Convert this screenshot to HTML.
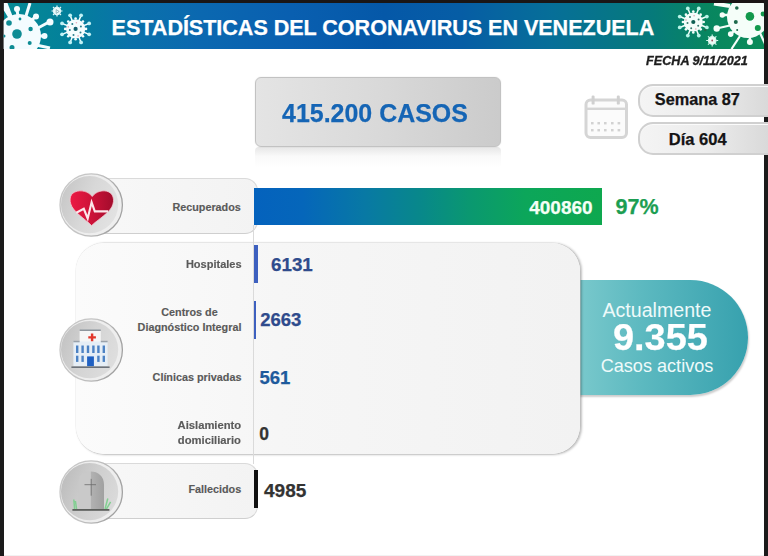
<!DOCTYPE html>
<html><head><meta charset="utf-8">
<style>
*{margin:0;padding:0;box-sizing:border-box}
html,body{width:768px;height:556px;overflow:hidden;background:#fff}
body{position:relative;font-family:"Liberation Sans",sans-serif}
.a{position:absolute}
.t{position:absolute;white-space:nowrap;line-height:1}
.b{font-weight:bold;-webkit-text-stroke:0.25px currentColor}
.lbl{font-weight:bold;-webkit-text-stroke:0.15px #5a5a5a;color:#5a5a5a;font-size:10.8px;text-align:center;line-height:15px}
</style></head><body>

<!-- header -->
<div class="a" style="left:0;top:3px;width:768px;height:46px;background:linear-gradient(90deg,#068a93 0%,#03809b 9%,#0a72aa 17%,#0b68b0 26%,#095fb0 38%,#0558a8 50%,#065da5 60%,#066f98 72%,#067a7a 85%,#088660 92%,#0b8c58 100%)"></div>

<div class="t b" style="left:111.6px;top:16.9px;font-size:21.6px;color:#fff;letter-spacing:-0.05px">ESTADÍSTICAS DEL CORONAVIRUS EN VENEZUELA</div>

<!-- borders -->
<div class="a" style="left:0;top:0;width:768px;height:3px;background:#1a1616"></div>
<div class="a" style="left:0;top:0;width:3.6px;height:556px;background:#1b1b1b"></div>
<div class="a" style="left:764px;top:0;width:4px;height:556px;background:#1b1b1b"></div>
<div class="a" style="left:3.6px;top:555px;width:760px;height:1px;background:#f2f2f2"></div>

<!-- FECHA -->
<div class="t" style="left:646.2px;top:54.4px;font-size:13px;font-weight:bold;font-style:italic;color:#1e1e1e;-webkit-text-stroke:0.35px #1e1e1e;transform:scaleX(0.972);transform-origin:0 0">FECHA 9/11/2021</div>

<!-- 415.200 CASOS -->
<div class="a" style="left:255px;top:147.4px;width:246px;height:21px;border-radius:4px;background:linear-gradient(180deg,rgba(222,222,222,0.75),rgba(240,240,240,0.35) 45%,rgba(255,255,255,0))"></div>
<div class="a" style="left:255px;top:77.3px;width:246px;height:69.9px;border-radius:6px;border:1.2px solid #c2c2c2;box-shadow:0 0 1.5px rgba(0,0,0,0.12);background:linear-gradient(90deg,#e4e4e4,#d9d9d9 50%,#cbcbcb)"></div>
<div class="t b" style="left:282px;top:100px;font-size:26px;color:#1565b5;transform:scaleX(0.96);transform-origin:0 0">415.200 CASOS</div>

<!-- Semana / Dia -->
<div class="a" style="left:637.5px;top:83.6px;width:150px;height:33.6px;border-radius:15px;border:2px solid #d0d0d0;box-shadow:inset 0 1px 0 #fbfbfb;background:linear-gradient(90deg,#f4f4f4,#ececec 45%,#d4d4d4)"></div>
<div class="a" style="left:637.5px;top:122px;width:150px;height:33px;border-radius:15px;border:2px solid #d0d0d0;box-shadow:inset 0 1px 0 #fbfbfb;background:linear-gradient(90deg,#f4f4f4,#ececec 45%,#d4d4d4)"></div>
<div class="t b" style="left:654.8px;top:91px;font-size:16.3px;color:#141414">Semana 87</div>
<div class="t b" style="left:668.8px;top:130.5px;font-size:16.5px;color:#141414">Día 604</div>

<!-- calendar -->
<svg class="a" style="left:580px;top:92px;filter:blur(0.4px)" width="52" height="50" viewBox="0 0 52 50">
  <rect x="6" y="8" width="40.5" height="37.6" rx="4.5" fill="#fbfbfb" stroke="#d5d5d5" stroke-width="3"/>
  <rect x="6" y="15.6" width="40.5" height="2.4" fill="#d5d5d5"/>
  <rect x="11.6" y="3.6" width="3" height="9" rx="1.2" fill="#d0d0d0"/>
  <rect x="36.8" y="3.6" width="3" height="9" rx="1.2" fill="#d0d0d0"/>
  <g fill="#d2d2d2">
   <rect x="11" y="30" width="2.6" height="2.4"/><rect x="17.4" y="30" width="2.6" height="2.4"/><rect x="24" y="30" width="2.6" height="2.4"/><rect x="31" y="30" width="2.6" height="2.4"/><rect x="37.6" y="30" width="2.6" height="2.4"/>
   <rect x="11" y="37" width="2.6" height="2.4"/><rect x="17.4" y="37" width="2.6" height="2.4"/><rect x="24" y="37" width="2.6" height="2.4"/><rect x="31" y="37" width="2.6" height="2.4"/><rect x="37.6" y="37" width="2.6" height="2.4"/>
  </g>
</svg>

<!-- Recuperados row -->
<div class="a" style="left:80px;top:178.3px;width:177.5px;height:56px;border-radius:0 13px 13px 0;border:1px solid #dadada;border-bottom:1.5px solid #cfcfcf;background:linear-gradient(90deg,#f8f8f8,#f3f3f3)"></div>
<div class="t lbl" style="right:527.2px;top:201.6px;line-height:1">Recuperados</div>
<div class="a" style="left:254px;top:188px;width:348px;height:37.4px;background:linear-gradient(90deg,#0462bd 0%,#0566ba 14%,#0879a4 32%,#08888a 48%,#0a9870 62%,#0ca65a 78%,#0ea84f 100%)"></div>
<div class="t b" style="right:175.4px;top:198.3px;font-size:19px;color:#f4fff6">400860</div>
<div class="t b" style="left:615.5px;top:197.2px;font-size:21.5px;color:#1c9e52">97%</div>

<!-- Actualmente -->
<div class="a" style="left:572px;top:279.8px;width:176px;height:115px;border-radius:0 57.5px 57.5px 0;background:linear-gradient(90deg,#7ccacd,#5cb9c0 40%,#37a1ae);box-shadow:1px 2px 2px rgba(0,0,0,0.2)"></div>
<!-- big panel -->
<div class="a" style="left:75.5px;top:242.5px;width:504.6px;height:211.3px;border-radius:28px;background:linear-gradient(90deg,#fbfbfb,#f6f6f6 40%,#f2f2f2);box-shadow:1.6px 0.8px 2.2px rgba(0,0,0,0.24), 0 0 0 0.5px #efefef"></div>
<!-- divider -->
<div class="a" style="left:253px;top:225px;width:1px;height:239px;background:#dadada"></div>
<div class="a" style="left:253.7px;top:244.5px;width:4.7px;height:38px;background:#3d60bf"></div>
<div class="a" style="left:253.6px;top:301px;width:2px;height:38px;background:#3d60bf"></div>

<!-- labels -->
<div class="t lbl" style="right:526.6px;top:258.9px;line-height:1;transform:scaleX(1.02);transform-origin:100% 0">Hospitales</div>
<div class="a lbl" style="right:526.6px;top:305px;white-space:nowrap">Centros de<br>Diagnóstico Integral</div>
<div class="t lbl" style="right:526.6px;top:371.6px;line-height:1">Clínicas privadas</div>
<div class="a lbl" style="right:526.6px;top:418.3px;white-space:nowrap;transform:scaleX(1.04);transform-origin:100% 0">Aislamiento<br>domiciliario</div>

<div class="t b" style="left:271px;top:255.6px;font-size:18.8px;color:#2f4b8c">6131</div>
<div class="t b" style="left:260.2px;top:311px;font-size:18.5px;color:#2f4b8c">2663</div>
<div class="t b" style="left:259.4px;top:369.1px;font-size:18.5px;color:#1e5a9c">561</div>
<div class="t b" style="left:259.3px;top:426.2px;font-size:17.5px;color:#333">0</div>

<div class="t" style="left:602.5px;top:301.2px;font-size:19.6px;color:#eefafa">Actualmente</div>
<div class="t b" style="left:613px;top:320.4px;font-size:36.8px;color:#fff;transform:scaleX(1.03);transform-origin:0 0">9.355</div>
<div class="t" style="left:600.7px;top:357.1px;font-size:18.1px;color:#eefafa">Casos activos</div>

<!-- Fallecidos row -->
<div class="a" style="left:80px;top:462.8px;width:178px;height:56.2px;border-radius:0 13px 13px 0;border:1px solid #dadada;border-bottom:1.5px solid #cfcfcf;background:linear-gradient(90deg,#f8f8f8,#f3f3f3)"></div>
<div class="t lbl" style="right:526.8px;top:484.4px;line-height:1">Fallecidos</div>
<div class="a" style="left:253.6px;top:470.3px;width:4.4px;height:37.6px;background:#111"></div>
<div class="t b" style="left:264px;top:481.1px;font-size:19px;color:#333">4985</div>

<!-- circles -->
<svg class="a" style="left:58px;top:172px;overflow:visible" width="68" height="68" viewBox="0 0 68 68">
 <defs>
  <linearGradient id="cg" x1="0" y1="0.2" x2="1" y2="0.6"><stop offset="0" stop-color="#c6c6c6"/><stop offset="0.5" stop-color="#d8d8d8"/><stop offset="1" stop-color="#e2e2e2"/></linearGradient>
  <linearGradient id="rg" x1="0" y1="0" x2="1" y2="0.3"><stop offset="0" stop-color="#c8c8c8"/><stop offset="0.55" stop-color="#c4c4c4"/><stop offset="1" stop-color="#a2a2a2"/></linearGradient>
  <linearGradient id="hg" x1="0" y1="0" x2="1" y2="0"><stop offset="0" stop-color="#ec1a44"/><stop offset="0.5" stop-color="#cc1238"/><stop offset="1" stop-color="#a20c2c"/></linearGradient>
 </defs>
 <circle cx="33.2" cy="33" r="31.2" fill="#eeeeee" stroke="url(#rg)" stroke-width="1.3"/><circle cx="31.6" cy="32.6" r="28.6" fill="url(#cg)"/>
 <path d="M33.6 53.6 C30 49.5 20 43 15.5 37 C10.5 30.5 11 22.5 16.8 20 C23 17.3 30.5 19.5 34.2 24.5 C38 19.5 45 17.3 50.8 20 C56.5 22.7 57 31 52.5 37 C48 43 37.5 49.5 33.6 53.6 Z" fill="url(#hg)" stroke="#f3c8d0" stroke-width="0.8"/>
 <path d="M18.2 40.7 L25.8 36.8 L29.7 46.5 L33.6 30.3 L36.8 39.4 L50 39.4" fill="none" stroke="#fce6ea" stroke-width="2.1" stroke-linejoin="miter"/>
</svg>

<svg class="a" style="left:58px;top:317px;overflow:visible" width="68" height="68" viewBox="0 0 68 68">
 <defs>
  <linearGradient id="cg2" x1="0" y1="0.2" x2="1" y2="0.6"><stop offset="0" stop-color="#c2c2c2"/><stop offset="0.5" stop-color="#d4d4d4"/><stop offset="1" stop-color="#dedede"/></linearGradient>
 </defs>
 <circle cx="33.2" cy="33" r="31.2" fill="#eeeeee" stroke="url(#rg)" stroke-width="1.3"/><circle cx="31.6" cy="32.6" r="28.6" fill="url(#cg2)"/>
 <rect x="21.6" y="12.6" width="21.2" height="36" fill="#f6f6f6"/>
 <rect x="21.6" y="12.4" width="21.2" height="1.6" fill="#8e959c"/>
 <rect x="15.4" y="24.4" width="34.2" height="24.6" fill="#e6eef6"/>
 <rect x="15.4" y="23.8" width="6.2" height="1.5" fill="#9aa2aa"/>
 <rect x="42.8" y="23.8" width="6.8" height="1.5" fill="#9aa2aa"/>
 <path d="M30.3 19.2h2.6v-2.6h2.4v2.6h2.6v2.4h-2.6v2.6h-2.4v-2.6h-2.6z" fill="#e2382c"/>
 <g fill="#4c82c4">
  <rect x="18" y="28.5" width="2.4" height="7.5"/><rect x="23.4" y="28.5" width="2.4" height="7.5"/><rect x="28.8" y="28.5" width="2.4" height="7.5"/><rect x="34.2" y="28.5" width="2.4" height="7.5"/><rect x="39.2" y="28.5" width="2.4" height="7.5"/><rect x="44.6" y="28.5" width="2.4" height="7.5"/>
  <rect x="18" y="38.7" width="2.4" height="6.2"/><rect x="23.4" y="38.7" width="2.4" height="6.2"/><rect x="39.2" y="38.7" width="2.4" height="6.2"/><rect x="44.6" y="38.7" width="2.4" height="6.2"/>
 </g>
 <rect x="29.1" y="39.4" width="6.8" height="9.8" fill="#1f60c2"/>
 <rect x="13.4" y="49.4" width="38.2" height="1.6" fill="#6c727a"/>
</svg>

<svg class="a" style="left:57.5px;top:458.7px;overflow:visible" width="68" height="68" viewBox="0 0 68 68">
 <defs>
  <linearGradient id="cg3" x1="0" y1="0.2" x2="1" y2="0.6"><stop offset="0" stop-color="#bcbcbc"/><stop offset="0.5" stop-color="#cecece"/><stop offset="1" stop-color="#dadada"/></linearGradient>
  <linearGradient id="tg" x1="0" y1="0" x2="1" y2="0"><stop offset="0" stop-color="#b2b2b2"/><stop offset="1" stop-color="#a0a0a0"/></linearGradient>
 </defs>
 <circle cx="33.2" cy="33" r="31.2" fill="#eeeeee" stroke="url(#rg)" stroke-width="1.3"/><circle cx="31.6" cy="32.6" r="28.6" fill="url(#cg3)"/>
 <path d="M20.4 50.9 V24 C20.4 17 24 12.5 32.8 12.5 V50.9 Z" fill="#c9c9c9"/>
 <path d="M32.8 12.5 C40 12.5 46 17 46 26 V50.9 H32.8 Z" fill="url(#tg)"/>
 <path d="M26.5 25.7 H38 M33.2 19.9 V36.7" stroke="#6a6a6a" stroke-width="0.8"/>
 <path d="M16.6 50 L15.8 40.5 M18.6 50 L17.4 42 M47 50 L49.8 39.5 M48.4 50.2 L52.6 42.8" stroke="#82cf92" stroke-width="1.5"/>
 <rect x="14.4" y="50" width="37" height="1.8" fill="#5c5f5c"/>
</svg>

<!-- header viruses -->
<svg class="a" style="left:0;top:3px" width="768" height="46" viewBox="0 3 768 46">
 <defs><clipPath id="hc"><rect x="3.6" y="3" width="760.4" height="46"/></clipPath></defs>
 <g clip-path="url(#hc)">
  <!-- left big virus -->
  <g fill="#f4fcff" stroke="#f4fcff">
   <circle cx="19" cy="36" r="22" stroke="none"/>
   
   <line x1="17" y1="10" x2="18" y2="16" stroke-width="3"/><circle cx="17" cy="9" r="3" stroke="none"/>
   <line x1="30" y1="3" x2="26" y2="16" stroke-width="3"/>
   <line x1="35" y1="17" x2="32" y2="20" stroke-width="3"/><circle cx="36" cy="16.5" r="3" stroke="none"/>
   <line x1="49" y1="22" x2="38" y2="28" stroke-width="3"/><circle cx="50" cy="22" r="3.5" stroke="none"/>
   <line x1="44" y1="36" x2="40" y2="36" stroke-width="3"/><circle cx="44.5" cy="36" r="3" stroke="none"/>
   <line x1="50" y1="48" x2="36" y2="45" stroke-width="3"/>
   <path d="M3.6 3 L7.5 3 L12.5 16 L8.5 18 L3.6 10 Z" stroke="none"/>
  </g>
  <g fill="#0e8c94">
   <circle cx="17" cy="34" r="4.8"/><circle cx="9" cy="23" r="2.8"/><circle cx="30.6" cy="29" r="2.2"/><circle cx="29.7" cy="43" r="2"/><circle cx="20" cy="19" r="1.4"/><circle cx="12" cy="47.5" r="2.5"/><circle cx="4" cy="36" r="1.5"/>
  </g>
  <!-- small virus left -->
  <g stroke="#dff6f8" stroke-width="1.2" fill="#f0fbfc">
   <circle cx="57" cy="11" r="3.6"/>
   <path d="M57 5.5v2 M57 14.5v2 M51.5 11h2 M60.5 11h2 M53 7l1.4 1.4 M59.6 13.6l1.4 1.4 M61 7l-1.4 1.4 M54.4 13.6l-1.4 1.4"/>
  </g>
  <path d="M56.2 9.6 L59.2 11.5 L56.2 13.4 Z" fill="none" stroke="#7aa8b0" stroke-width="0.8"/>
  <!-- medium virus left -->
  <g transform="translate(75.6,28.9)">
   <path d="M-3.00 -7.42L-5.47 -13.54 M3.00 -7.42L5.47 -13.54 M7.42 -3.00L13.54 -5.47 M7.42 3.00L13.54 5.47 M3.00 7.42L5.47 13.54 M-3.00 7.42L-5.47 13.54 M-7.42 3.00L-13.54 5.47 M-7.42 -3.00L-13.54 -5.47" stroke="#f4fdfe" stroke-width="1.5"/>
   <g fill="#bff2f6"><circle cx="-5.47" cy="-13.54" r="1.9"/><circle cx="5.47" cy="-13.54" r="1.9"/><circle cx="13.54" cy="-5.47" r="1.9"/><circle cx="13.54" cy="5.47" r="1.9"/><circle cx="5.47" cy="13.54" r="1.9"/><circle cx="-5.47" cy="13.54" r="1.9"/><circle cx="-13.54" cy="5.47" r="1.9"/><circle cx="-13.54" cy="-5.47" r="1.9"/></g>
   <g fill="#f4fdfe"><circle cx="0.00" cy="-10.40" r="1.3"/><circle cx="10.40" cy="0.00" r="1.3"/><circle cx="0.00" cy="10.40" r="1.3"/><circle cx="-10.40" cy="0.00" r="1.3"/><circle cx="7.36" cy="-7.36" r="1.3"/><circle cx="7.36" cy="7.36" r="1.3"/><circle cx="-7.36" cy="7.36" r="1.3"/><circle cx="-7.36" cy="-7.36" r="1.3"/></g>
   <circle r="9.6" fill="#f4fdfe"/>
   <circle r="2.1" fill="#13606e"/>
   <g fill="#2a7f8c"><circle cx="-3.3" cy="-5" r="1"/><circle cx="5.3" cy="-2.5" r="1"/><circle cx="-5.8" cy="1" r="1"/><circle cx="-2.1" cy="6.2" r="1"/><circle cx="4.9" cy="3.7" r="1"/></g>
   <g fill="#e8a8b8"><circle cx="0.8" cy="-6.2" r="0.8"/><circle cx="2.5" cy="7" r="0.8"/><circle cx="-7.3" cy="-2" r="0.8"/></g>
   </g>
  <!-- medium virus right -->
  <g transform="translate(693.3,22)">
   <path d="M-3.00 -7.42L-5.47 -13.54 M3.00 -7.42L5.47 -13.54 M7.42 -3.00L13.54 -5.47 M7.42 3.00L13.54 5.47 M3.00 7.42L5.47 13.54 M-3.00 7.42L-5.47 13.54 M-7.42 3.00L-13.54 5.47 M-7.42 -3.00L-13.54 -5.47" stroke="#f4fdfa" stroke-width="1.5"/>
   <g fill="#b8f4e8"><circle cx="-5.47" cy="-13.54" r="1.9"/><circle cx="5.47" cy="-13.54" r="1.9"/><circle cx="13.54" cy="-5.47" r="1.9"/><circle cx="13.54" cy="5.47" r="1.9"/><circle cx="5.47" cy="13.54" r="1.9"/><circle cx="-5.47" cy="13.54" r="1.9"/><circle cx="-13.54" cy="5.47" r="1.9"/><circle cx="-13.54" cy="-5.47" r="1.9"/></g>
   <g fill="#f4fdfa"><circle cx="0.00" cy="-10.40" r="1.3"/><circle cx="10.40" cy="0.00" r="1.3"/><circle cx="0.00" cy="10.40" r="1.3"/><circle cx="-10.40" cy="0.00" r="1.3"/><circle cx="7.36" cy="-7.36" r="1.3"/><circle cx="7.36" cy="7.36" r="1.3"/><circle cx="-7.36" cy="7.36" r="1.3"/><circle cx="-7.36" cy="-7.36" r="1.3"/></g>
   <circle r="9.6" fill="#f4fdfa"/>
   <circle r="2.1" fill="#0f5e52"/>
   <g fill="#3a7a70"><circle cx="-3.3" cy="-5" r="1"/><circle cx="5.3" cy="-2.5" r="1"/><circle cx="-5.8" cy="1" r="1"/><circle cx="-2.1" cy="6.2" r="1"/><circle cx="4.9" cy="3.7" r="1"/></g>
   <g fill="#e0a0b0"><circle cx="0.8" cy="-6.2" r="0.8"/><circle cx="2.5" cy="7" r="0.8"/><circle cx="-7.3" cy="-2" r="0.8"/></g>
   </g>
  <!-- small virus right -->
  <g stroke="#d8f7ee" stroke-width="1.2" fill="#eefbf6">
   <circle cx="712.2" cy="40.5" r="3.8"/>
   <path d="M712.2 34.5v2 M712.2 44.5v2 M706.2 40.5h2 M716.2 40.5h2 M708 36.3l1.4 1.4 M715 43.3l1.4 1.4 M716.4 36.3l-1.4 1.4 M709.4 43.3l-1.4 1.4"/>
  </g>
  <circle cx="712.2" cy="40.5" r="0.9" fill="#a05060"/>
  <!-- right big virus -->
  <g fill="#f5fef9" stroke="#f5fef9">
   <circle cx="748" cy="17" r="21" stroke="none"/>
   <line x1="714" y1="3.5" x2="730" y2="6" stroke-width="4"/>
   <line x1="722.3" y1="15" x2="728" y2="15" stroke-width="2.4"/><circle cx="722.3" cy="15" r="2.7" stroke="none"/>
   <line x1="716.7" y1="28.5" x2="732" y2="25" stroke-width="2.2"/><circle cx="716.7" cy="28.5" r="3.2" stroke="none"/>
   <line x1="730.7" y1="34.1" x2="734" y2="31" stroke-width="2.4"/><circle cx="730.7" cy="34.1" r="2.8" stroke="none"/>
   <line x1="749.9" y1="42" x2="749.9" y2="36" stroke-width="2.4"/><circle cx="749.9" cy="42" r="3" stroke="none"/>
   <line x1="731.5" y1="49" x2="740" y2="36" stroke-width="2.2"/>
   <line x1="766" y1="46" x2="760" y2="33" stroke-width="2.2"/>
  </g>
  <g fill="#12994c">
   <circle cx="749.9" cy="16.4" r="4.3"/><circle cx="757.8" cy="28" r="3"/><circle cx="763" cy="14" r="2.4"/>
  </g>
  <g fill="#1e6a4c"><circle cx="736.8" cy="8" r="1.8"/><circle cx="735.8" cy="22" r="2"/><circle cx="705.31" cy="30.07" r="1.3"/><circle cx="737.2" cy="29.9" r="1"/></g>
 </g>
</svg>

</body></html>
